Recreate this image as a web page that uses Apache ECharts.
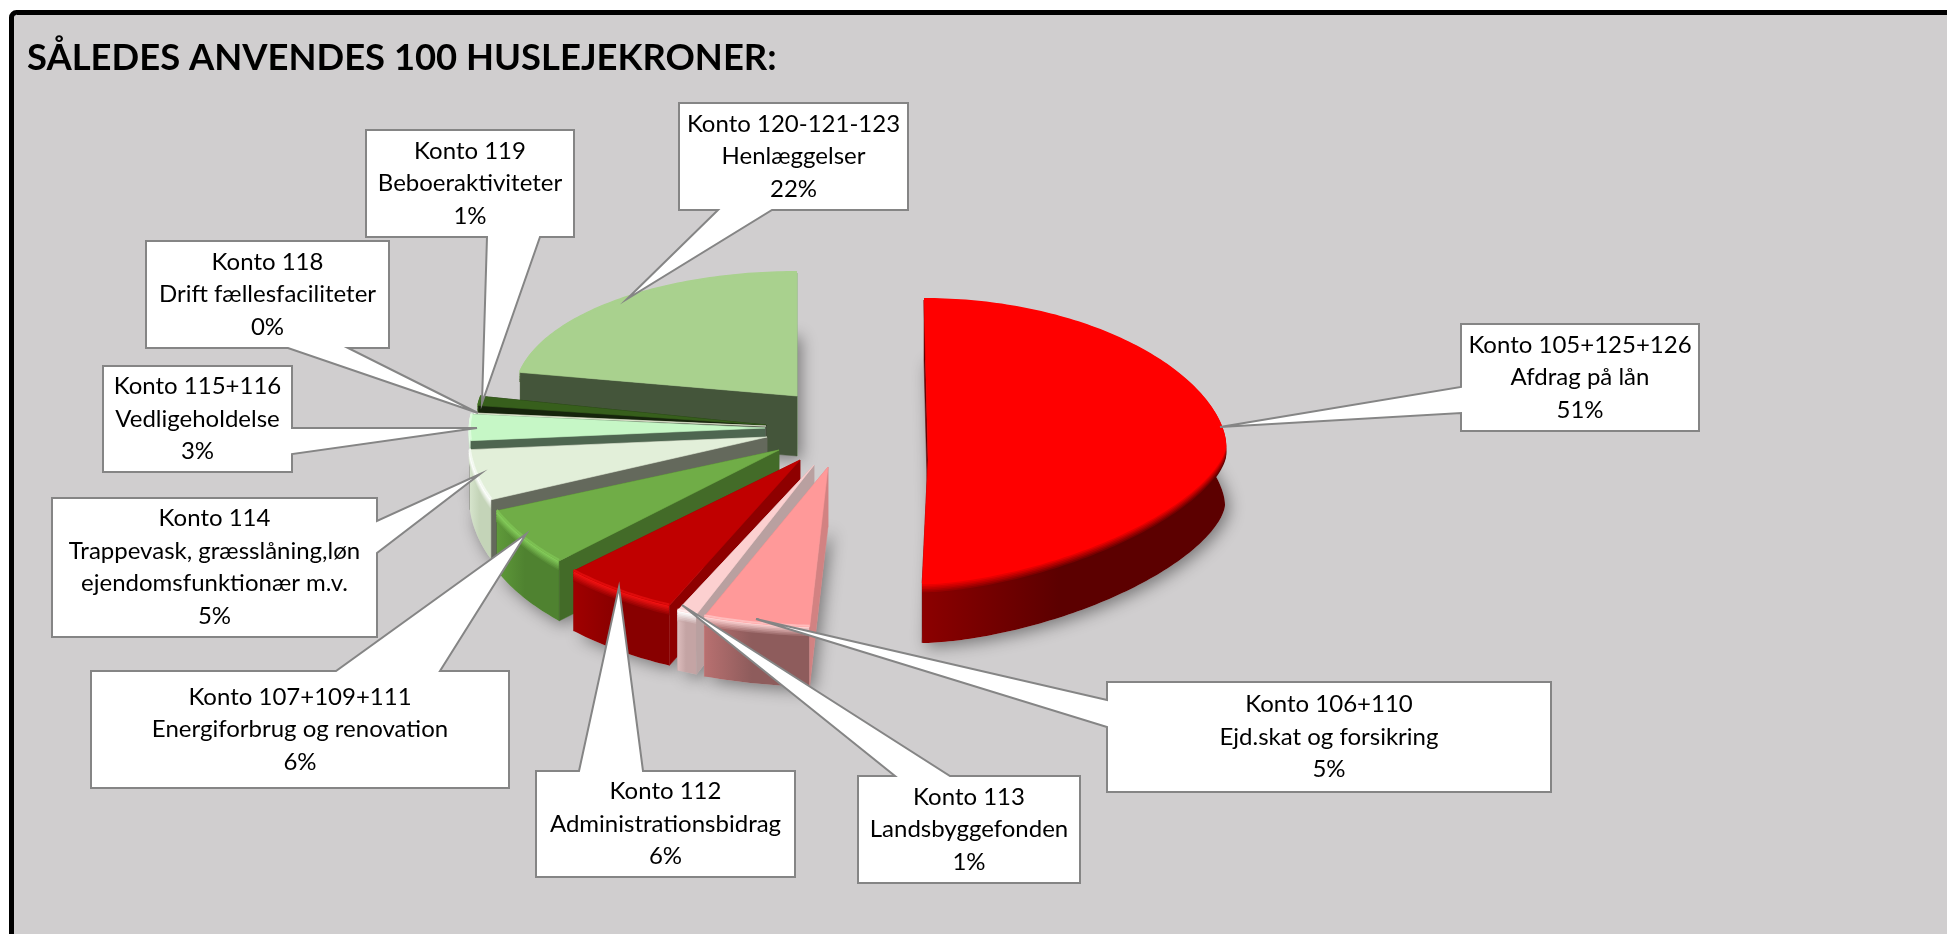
<!DOCTYPE html>
<html><head><meta charset="utf-8">
<style>html,body{margin:0;padding:0;background:#fff}#c{width:1947px;height:934px}</style>
<script src="https://cdn.jsdelivr.net/npm/echarts@6/dist/echarts.min.js"></script>
</head><body><div id="c"></div>
<script>
// ---------- data ----------
const chartTitle = 'SÅLEDES ANVENDES 100 HUSLEJEKRONER:';
const accounts = ['Konto 105+125+126','Konto 106+110','Konto 113','Konto 112','Konto 107+109+111','Konto 114','Konto 115+116','Konto 118','Konto 119','Konto 120-121-123'];
const descriptions = [['Afdrag på lån'],['Ejd.skat og forsikring'],['Landsbyggefonden'],['Administrationsbidrag'],['Energiforbrug og renovation'],['Trappevask, græsslåning,løn','ejendomsfunktionær m.v.'],['Vedligeholdelse'],['Drift fællesfaciliteter'],['Beboeraktiviteter'],['Henlæggelser']];
const shares = [51,5,1,6,6,5,3,0.3,1,22];

// ---------- styling ----------
const topColors  = ['#ff0000','#ff9999','#fcd0d0','#c00000','#70ad47','#e2efd9','#c6f7c6','#dfe8cf','#375f1c','#a9d18e'];
const rimColors  = ['#ff0000','#ffd4d4','#ffffff','#f21212','#84cc5a','#ffffff','#ecffec','#ffffff','#4a7a2a','#a9d18e'];
const wallLeft   = ['#8c0000','#b87070','#dcbcbc','#a00000','#5f9a3a','#d6e4cc','#cfe8cf','#cccccc','#2e5018','#4f6a3e'];
const wallRight  = ['#5c0000','#8e5c5c','#c4a4a4','#880000','#4f8230','#c4d4b8','#c0dcc0','#bbbbbb','#2e5018','#4f6a3e'];
const startFaces = ['#5a0000','#d28282','#b9a0a0','#8e0000','#436b28','#64695c','#4e6650','#5c6054','#16240c','#44553a'];
const endFaces   = ['#500000','#d28282','#b9a0a0','#8e0000','#436b28','#64695c','#4e6650','#5c6054','#16240c','#7fa870'];

// ---------- pie layout (exploded, tilted) ----------
const pieCenter = [830,420];
const explode = [[98,40],[-2,47],[-16,45],[-30,40],[-51,30],[-63,17],[-65,8],[-64,6],[-64,5],[-33,-24]];
const rimShift = [[-4,-15],[0,0],[0,0],[0,0],[0,0],[0,0],[0,0],[0,0],[0,0],[0,0]];
const radiusX = [301,345,328,314,305,298,295,293,290,282];
const radiusXLeft = [70,345,328,314,305,298,295,293,290,282];
const radiusBack = [145,123,123,123,123,123,123,100,150,123];
const radiusFront = [138,160,160,160,160,165,165,160,160,160];
const powerBack = [1.15,1,1,1,1,1,1,1,1,1];
const powerFront = [1.25,1,1,1,1,1,1,1,1,1];
const depth = 60;
const paintOrder = [9,8,7,6,5,4,3,2,1,0];

// ---------- callouts: box, tail side, tail base on that side, tip ----------
const calloutBoxes = [
 {box:[1461,324,1699,431],side:'left',base:[387,413],tip:[1220,427]},
 {box:[1107,682,1551,792],side:'left',base:[700,727],tip:[756,619]},
 {box:[858,776,1080,883],side:'top',base:[895,950],tip:[682,605]},
 {box:[536,771,795,877],side:'top',base:[579,643],tip:[619,587]},
 {box:[91,671,509,788],side:'top',base:[336,440],tip:[526,534]},
 {box:[52,498,377,637],side:'right',base:[521,553],tip:[480,474]},
 {box:[103,366,292,472],side:'right',base:[428,454],tip:[477,428]},
 {box:[146,241,389,348],side:'bottom',base:[288,348],tip:[478,413]},
 {box:[366,130,574,237],side:'bottom',base:[487,540],tip:[482,403]},
 {box:[679,103,908,210],side:'bottom',base:[718,772],tip:[627,299]}
];

const total = shares.reduce((a,b)=>a+b,0);
const angles = []; shares.reduce((acc,v,i)=>{const s=acc,e=acc+v/total*360;angles[i]=[s,e];return e;},0);
const rad = d=>d*Math.PI/180;
function lerpColor(a,b,t){const p=c=>[1,3,5].map(k=>parseInt(c.substr(k,2),16));const A=p(a),B=p(b);
  return 'rgb('+A.map((v,i)=>Math.round(v+(B[i]-v)*t)).join(',')+')';}
function apexOf(i){return [pieCenter[0]+explode[i][0],pieCenter[1]+explode[i][1]];}
function rimPoint(i,deg,dy){
  const a=apexOf(i),c=Math.cos(rad(deg)),s=Math.sin(rad(deg));
  const ox=a[0]+rimShift[i][0],oy=a[1]+rimShift[i][1];
  // front half may be a flatter super-ellipse: same power on both axes
  const px=c>0?1:powerFront[i];
  const dx=s>=0?radiusX[i]*Math.pow(s,px):-radiusXLeft[i]*Math.pow(-s,px);
  const ry=c>0?radiusBack[i]*Math.pow(c,powerBack[i]):-radiusFront[i]*Math.pow(-c,powerFront[i]);
  return [ox+dx,oy-ry+(dy||0)];
}
function arc(i,dy){const [s,e]=angles[i],n=Math.max(4,Math.ceil((e-s)/1)),pts=[];
  for(let k=0;k<=n;k++)pts.push(rimPoint(i,s+(e-s)*k/n,dy));return pts;}

function shadowItem(params){
  const i=params.dataIndex,a=apexOf(i);
  const pts=[[a[0],a[1]+depth]].concat(arc(i,depth));
  return {type:'polygon',shape:{points:pts},style:{fill:'#c8c6c7',shadowColor:'rgba(0,0,0,0.42)',shadowBlur:16,shadowOffsetX:4,shadowOffsetY:4}};
}
function sliceItem(params){
  const i=paintOrder[params.dataIndex],a=apexOf(i),[s,e]=angles[i];
  const top=arc(i,0),bot=arc(i,depth),children=[];
  const face=(deg,fill)=>{const p=rimPoint(i,deg,0);
    children.push({type:'polygon',shape:{points:[a,p,[p[0],p[1]+depth],[a[0],a[1]+depth]]},style:{fill,stroke:fill,lineWidth:0.5}});};
  const grad=(l,r)=>({type:'linear',x:0,y:0,x2:1,y2:0,colorStops:[{offset:0,color:l},{offset:0.45,color:r},{offset:1,color:r}]});
  face(e,endFaces[i]);
  children.push({type:'polygon',shape:{points:top.concat(bot.slice().reverse())},style:{fill:grad(wallLeft[i],wallRight[i])}});
  const N=6;
  for(let k=N;k>=0;k--){
    children.push({type:'polyline',shape:{points:arc(i,k*1.6)},style:{fill:'none',lineWidth:2.6,
      stroke:grad(lerpColor(rimColors[i],wallLeft[i],k/N),lerpColor(rimColors[i],wallRight[i],k/N))}});
  }
  face(s,startFaces[i]);
  children.push({type:'polygon',shape:{points:[a].concat(top)},style:{fill:topColors[i],stroke:topColors[i],lineWidth:0.6}});
  children.push({type:'polyline',shape:{points:arc(i,-1)},style:{fill:'none',stroke:lerpColor(topColors[i],rimColors[i],0.6),lineWidth:2}});
  return {type:'group',children};
}
function calloutItem(params){
  const i=params.dataIndex,c=calloutBoxes[i],[x0,y0,x1,y1]=c.box,[b0,b1]=c.base;
  let pts;
  if(c.side==='left') pts=[[x0,y0],[x1,y0],[x1,y1],[x0,y1],[x0,b1],c.tip,[x0,b0]];
  if(c.side==='right')pts=[[x0,y0],[x1,y0],[x1,b0],c.tip,[x1,b1],[x1,y1],[x0,y1]];
  if(c.side==='top')  pts=[[x0,y0],[b0,y0],c.tip,[b1,y0],[x1,y0],[x1,y1],[x0,y1]];
  if(c.side==='bottom')pts=[[x0,y0],[x1,y0],[x1,y1],[b1,y1],c.tip,[b0,y1],[x0,y1]];
  const lines=[accounts[i]].concat(descriptions[i],[Math.round(shares[i])+'%']);
  return {type:'group',children:[
    {type:'polygon',shape:{points:pts},style:{fill:'#ffffff',stroke:'#858585',lineWidth:2,lineJoin:'miter'}},
    {type:'text',style:{x:(x0+x1)/2,y:(y0+y1)/2,text:lines.join('\n'),align:'center',verticalAlign:'middle',
      fontFamily:'Lato',fontSize:24,lineHeight:32.5,fill:'#000000'}}
  ]};
}

const chart = echarts.init(document.getElementById('c'),null,{renderer:'canvas'});
chart.setOption({
  animation:false,
  backgroundColor:'#ffffff',
  title:{text:chartTitle,left:27,top:40,padding:0,textStyle:{fontFamily:'Lato',fontWeight:'bold',fontSize:36.4,color:'#000000'}},
  graphic:[
    {type:'rect',z:-10,shape:{x:11.5,y:12.5,width:1960,height:950,r:[5,0,0,0]},style:{fill:'#d0cecf',stroke:'#000000',lineWidth:5}}
  ],
  series:[
    {type:'custom',coordinateSystem:'none',silent:true,z:2,data:shares.map((v,i)=>[v,i]),renderItem:shadowItem},
    {type:'custom',coordinateSystem:'none',silent:true,z:3,data:paintOrder.map(i=>[shares[i],i]),renderItem:sliceItem},
    {type:'custom',coordinateSystem:'none',silent:true,z:4,data:shares.map((v,i)=>[v,i]),renderItem:calloutItem}
  ]
});
</script></body></html>
